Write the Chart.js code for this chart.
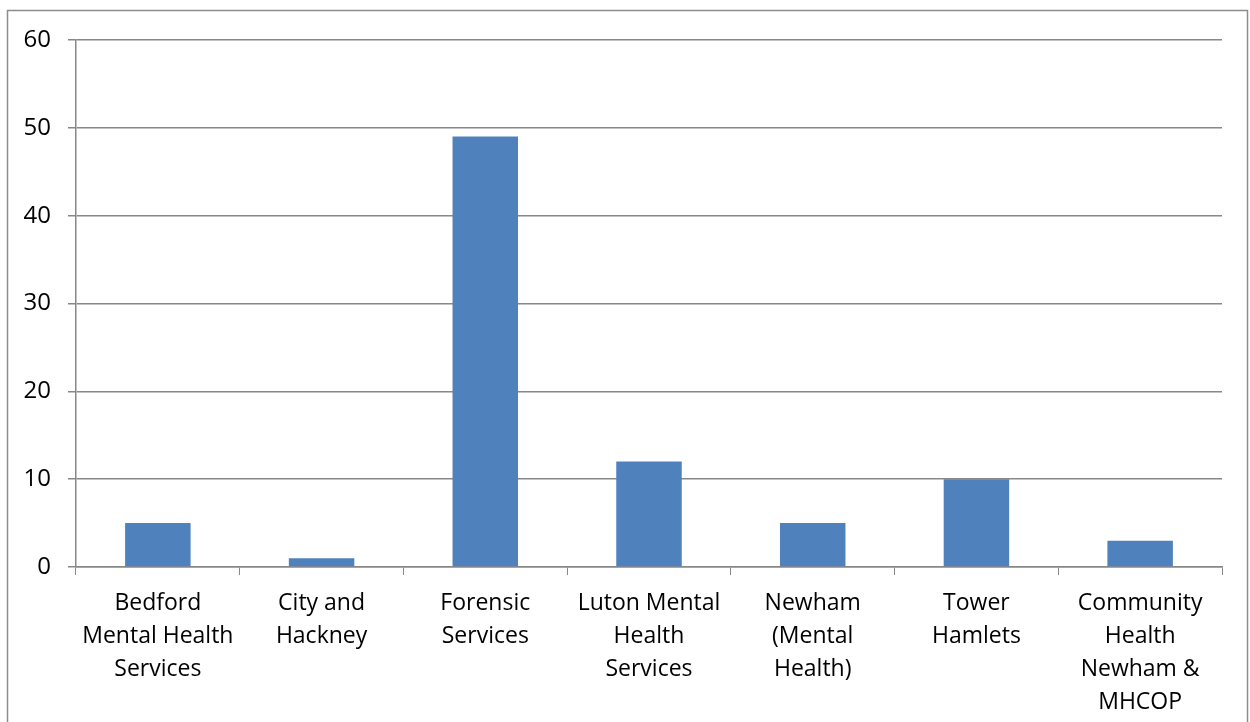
<!DOCTYPE html>
<html>
<head>
<meta charset="utf-8">
<script src="https://cdn.jsdelivr.net/npm/chart.js@4/dist/chart.umd.min.js"></script>
<style>
  html, body { margin: 0; padding: 0; background: #fff; }
  #wrap { width: 1250px; height: 722px; position: relative; }
</style>
</head>
<body>
<div id="wrap"><canvas id="chart" width="1250" height="722"></canvas></div>
<script>
// Categories (multi-line labels) and values
const CATEGORIES = [
    ['Bedford', 'Mental Health', 'Services'],
    ['City and', 'Hackney'],
    ['Forensic', 'Services'],
    ['Luton Mental', 'Health', 'Services'],
    ['Newham', '(Mental', 'Health)'],
    ['Tower', 'Hamlets'],
    ['Community', 'Health', 'Newham &', 'MHCOP']
];
const VALUES = [5, 1, 49, 12, 5, 10, 3];
const Y_MIN = 0;
const Y_MAX = 60;
const Y_STEP = 10;

const FONT = { family: '"Open Sans", sans-serif', size: 23, lineHeight: '33px' };

// Outer frame like the spreadsheet chart border
const framePlugin = {
    id: 'frame',
    beforeDraw(chart) {
        const ctx = chart.ctx;
        ctx.save();
        ctx.fillStyle = '#fff';
        ctx.fillRect(0, 0, chart.width, chart.height);
        ctx.strokeStyle = '#8c8c8c';
        ctx.lineWidth = 1.5;
        ctx.strokeRect(7.5, 10.5, 1240, 800);
        ctx.restore();
    }
};

new Chart(document.getElementById('chart').getContext('2d'), {
    type: 'bar',
    data: {
        labels: CATEGORIES,
        datasets: [{
            data: VALUES,
            backgroundColor: '#4f81bd',
            borderWidth: 0,
            categoryPercentage: 1,
            barPercentage: 0.4
        }]
    },
    options: {
        responsive: false,
        animation: false,
        layout: { padding: { top: 40, right: 28, left: 0, bottom: 0 } },
        plugins: {
            legend: { display: false },
            tooltip: { enabled: false }
        },
        scales: {
            x: {
                afterFit(scale) { scale.height = 155; },
                grid: {
                    offset: true,
                    drawOnChartArea: false,
                    tickLength: 8,
                    color: '#888'
                },
                border: { color: '#888', width: 1.5 },
                ticks: {
                    color: '#000',
                    font: FONT,
                    padding: 12,
                    maxRotation: 0,
                    autoSkip: false
                }
            },
            y: {
                min: Y_MIN,
                max: Y_MAX,
                afterFit(scale) { scale.width = 76; },
                grid: {
                    color: '#888',
                    lineWidth: 1.5,
                    tickLength: 8
                },
                border: { color: '#888', width: 1.5 },
                ticks: {
                    stepSize: Y_STEP,
                    color: '#000',
                    font: { family: '"Open Sans", sans-serif', size: 24 },
                    padding: 17
                }
            }
        }
    },
    plugins: [framePlugin]
});
</script>
</body>
</html>
